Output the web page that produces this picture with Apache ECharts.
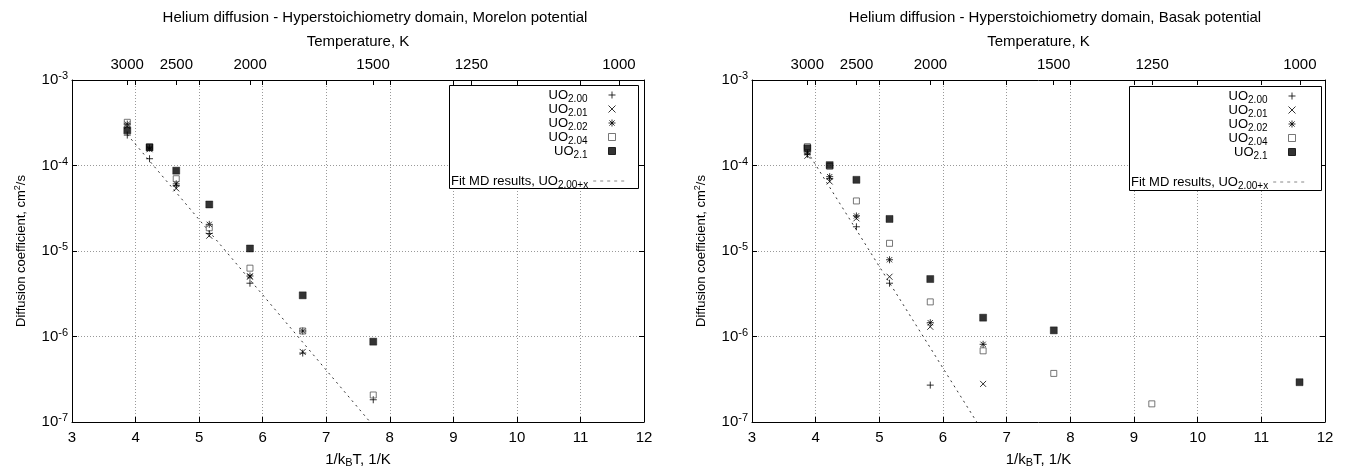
<!DOCTYPE html>
<html>
<head>
<meta charset="utf-8">
<title>Helium diffusion</title>
<script src="https://cdn.jsdelivr.net/npm/echarts@6/dist/echarts.min.js"></script>
<style>
  html, body { margin: 0; padding: 0; background: #fff; }
  #main { width: 1347px; height: 466px; }
</style>
</head>
<body>
<div id="main"></div>
<script>
// 1/kBT positions of the computed temperatures (3000 K ... 1000 K)
const morelonX = [3.87, 4.22, 4.64, 5.16, 5.80, 6.63, 7.74];
const basakX = [3.87, 4.22, 4.64, 5.16, 5.80, 6.63, 7.74, 9.28, 11.6];

// Morelon potential, diffusion coefficient in cm2/s
const morelon200 = [2.27e-4, 1.2e-4, 5.8e-5, 1.6e-5, 4.2e-6, 6.4e-7, 1.82e-7];
const morelon201 = [2.9e-4, 1.55e-4, 5.4e-5, 1.51e-5, 5.0e-6, 6.6e-7, null];
const morelon202 = [3.05e-4, 1.6e-4, 6.1e-5, 2.05e-5, 5.1e-6, 1.16e-6, null];
const morelon204 = [3.2e-4, 1.65e-4, 7.0e-5, 1.87e-5, 6.3e-6, 1.16e-6, 2.07e-7];
const morelon21 = [2.58e-4, 1.63e-4, 8.7e-5, 3.5e-5, 1.07e-5, 3.03e-6, 8.7e-7];

// Basak potential
const basak200 = [1.35e-4, 7.0e-5, 1.92e-5, 4.2e-6, 2.7e-7, null, null, null, null];
const basak201 = [1.3e-4, 6.5e-5, 2.41e-5, 5.0e-6, 1.3e-6, 2.79e-7, null, null, null];
const basak202 = [1.4e-4, 7.4e-5, 2.57e-5, 7.9e-6, 1.45e-6, 8.1e-7, null, null, null];
const basak204 = [1.66e-4, 9.8e-5, 3.85e-5, 1.23e-5, 2.54e-6, 6.8e-7, 3.7e-7, 1.63e-7, null];
const basak21 = [1.59e-4, 1.01e-4, 6.8e-5, 2.37e-5, 4.7e-6, 1.66e-6, 1.18e-6, null, 2.92e-7];

// fit lines (end points)
const morelonFitX = [3.87, 7.69];
const morelonFitY = [2.3e-4, 1.0e-7];
const basakFitX = [3.87, 6.53];
const basakFitY = [1.45e-4, 1.0e-7];

// top axis: temperature ticks
const tempTicks = [3000, 2500, 2000, 1500, 1250, 1000];
const KB = 8.617e-5; // eV/K
const tempPos = tempTicks.map(t => 1 / (KB * t));
const xTicks = [4, 5, 6, 7, 8, 9, 10, 11];

const seriesNames = ['UO2.00', 'UO2.01', 'UO2.02', 'UO2.04', 'UO2.1'];
const fitName = 'Fit MD results, UO2.00+x';

const FONT = '"Liberation Sans", Arial, Helvetica, sans-serif';

// marker look per composition (gnuplot style points)
const markers = [
  { symbol: 'path://M0,4L8,4M4,0L4,8', size: 7, style: { color: '#000', borderColor: '#000', borderWidth: 1 } },
  { symbol: 'path://M0,0L8,8M0,8L8,0', size: 6, style: { color: '#000', borderColor: '#000', borderWidth: 1 } },
  { symbol: 'path://M0,4L8,4M4,0L4,8M1,1L7,7M1,7L7,1', size: 7, style: { color: '#000', borderColor: '#000', borderWidth: 1 } },
  { symbol: 'rect', size: 6, style: { color: 'rgba(0,0,0,0)', borderColor: '#555', borderWidth: 1 } },
  { symbol: 'rect', size: 7, style: { color: '#000', borderColor: '#000', borderWidth: 0.5 } }
];

function pts(xs, ys) {
  return xs.map((x, i) => [x, ys[i]]).filter(p => p[1] != null);
}

function sub(name) {
  // UO2.00 -> UO + subscript
  let i = name.indexOf('UO');
  return '{m|' + name.slice(0, i + 2) + '}{s|' + name.slice(i + 2) + '}';
}

const subRich = {
  m: { fontSize: 13, fontFamily: FONT, color: '#000', lineHeight: 14 },
  s: { fontSize: 10, fontFamily: FONT, color: '#000', lineHeight: 14, padding: [8, 0, 0, 0] }
};

function makeAxes(gi) {
  const xBottom = {
    gridIndex: gi, type: 'value', position: 'bottom', min: 3, max: 12, interval: 1,
    name: '{a|1/k}{s|B}{a|T, 1/K}', nameLocation: 'middle', nameGap: 23,
    nameTextStyle: { rich: {
      a: { fontSize: 15, fontFamily: FONT, color: '#000', lineHeight: 16 },
      s: { fontSize: 11, fontFamily: FONT, color: '#000', lineHeight: 16, padding: [8, 0, 0, 0] } } },
    axisLine: { lineStyle: { color: '#000', width: 1 } },
    axisTick: { inside: true, length: 5, lineStyle: { color: '#000' } },
    axisLabel: { fontSize: 15, fontFamily: FONT, color: '#000', margin: 8 },
    splitLine: { show: true, lineStyle: { color: '#999', type: [1, 2], width: 1 } }
  };
  const xTop = {
    gridIndex: gi, type: 'value', position: 'top', min: 3, max: 12, interval: 1,
    name: 'Temperature, K', nameLocation: 'middle', nameGap: 31,
    nameTextStyle: { fontSize: 15, fontFamily: FONT, color: '#000' },
    axisLine: { lineStyle: { color: '#000', width: 1 } },
    axisTick: { inside: true, length: 5, lineStyle: { color: '#000' }, customValues: tempPos.concat(xTicks) },
    axisLabel: {
      fontSize: 15, fontFamily: FONT, color: '#000', margin: 8, customValues: tempPos,
      formatter: v => String(Math.round(1 / (KB * v)))
    },
    splitLine: { show: false }
  };
  const yLeft = {
    gridIndex: gi, type: 'log', logBase: 10, min: 1e-7, max: 1e-3, position: 'left',
    name: '{a|Diffusion coefficient, cm}{p|2}{a|/s}', nameLocation: 'middle', nameGap: 43,
    nameTextStyle: { rich: { a: { fontSize: 13, fontFamily: FONT, color: '#000' }, p: { fontSize: 9, fontFamily: FONT, color: '#000', padding: [0, 0, 7, 0] } } },
    axisLine: { show: true, lineStyle: { color: '#000', width: 1 } },
    axisTick: { show: true, inside: true, length: 5, lineStyle: { color: '#000' } },
    axisLabel: {
      margin: 4,
      formatter: v => '{b|10}{p|' + Math.round(Math.log10(v)) + '}',
      rich: { b: { fontSize: 15, fontFamily: FONT, color: '#000' }, p: { fontSize: 11, fontFamily: FONT, color: '#000', padding: [0, 0, 8, 0] } }
    },
    splitLine: { show: true, lineStyle: { color: '#999', type: [1, 2], width: 1 } },
    minorTick: { show: false }
  };
  const yRight = {
    gridIndex: gi, type: 'log', logBase: 10, min: 1e-7, max: 1e-3, position: 'right',
    axisLine: { show: true, lineStyle: { color: '#000', width: 1 } },
    axisTick: { show: true, inside: true, length: 5, lineStyle: { color: '#000' } },
    axisLabel: { show: false },
    splitLine: { show: false }
  };
  return { x: [xBottom, xTop], y: [yLeft, yRight] };
}

function makeSeries(gi, xs, groups, fitX, fitY) {
  let out = groups.map((ys, k) => ({
    name: seriesNames[k],
    type: 'scatter',
    xAxisIndex: gi * 2, yAxisIndex: gi * 2,
    symbol: markers[k].symbol,
    symbolSize: markers[k].size,
    itemStyle: markers[k].style,
    emphasis: { disabled: true },
    data: pts(xs, ys)
  }));
  out.push({
    name: fitName,
    type: 'line',
    xAxisIndex: gi * 2, yAxisIndex: gi * 2,
    symbol: 'none',
    itemStyle: { color: '#333' },
    lineStyle: { color: '#333', width: 1, type: [2, 4] },
    emphasis: { disabled: true },
    data: pts(fitX, fitY),
    z: 1
  });
  return out;
}

function makeLegends(iconRight, fitLeft, top) {
  return [
    {
      data: seriesNames, orient: 'vertical', align: 'right', right: iconRight, top: top,
      padding: 0, itemGap: -4, itemWidth: 7, itemHeight: 7,
      itemStyle: { borderWidth: 1 },
      selectedMode: false, z: 6,
      formatter: sub,
      textStyle: { width: 64, align: 'right', padding: [0, 16, 0, 0], rich: subRich }
    },
    {
      data: [fitName], orient: 'vertical', align: 'right', left: fitLeft, top: top + 86,
      padding: 0, itemWidth: 34, itemHeight: 7,
      itemStyle: { opacity: 0 },
      lineStyle: { color: '#888', width: 1, type: [3, 4] },
      selectedMode: false, z: 6,
      formatter: sub,
      textStyle: { rich: subRich }
    }
  ];
}

const a0 = makeAxes(0);
const a1 = makeAxes(1);

let option = {
  animation: false,
  backgroundColor: '#fff',
  title: [
    { text: 'Helium diffusion - Hyperstoichiometry domain, Morelon potential', left: 370, top: 5, textAlign: 'center',
      textStyle: { fontSize: 15, fontWeight: 'normal', fontFamily: FONT, color: '#000' } },
    { text: 'Helium diffusion - Hyperstoichiometry domain, Basak potential', left: 1050, top: 5, textAlign: 'center',
      textStyle: { fontSize: 15, fontWeight: 'normal', fontFamily: FONT, color: '#000' } }
  ],
  grid: [
    { left: 72, top: 80, width: 572, height: 342, outerBoundsMode: 'none', containLabel: false },
    { left: 752, top: 80, width: 573, height: 342, outerBoundsMode: 'none', containLabel: false }
  ],
  xAxis: a0.x.concat(a1.x),
  yAxis: a0.y.concat(a1.y),
  legend: makeLegends(731, 451, 86).concat(makeLegends(51, 1131, 87)),
  graphic: [
    { type: 'rect', z: 3, shape: { x: 449.5, y: 85.5, width: 189, height: 103 }, style: { fill: '#fff', stroke: '#000', lineWidth: 1 } },
    { type: 'rect', z: 3, shape: { x: 1129.5, y: 86.5, width: 192, height: 104 }, style: { fill: '#fff', stroke: '#000', lineWidth: 1 } }
  ],
  series: makeSeries(0, morelonX, [morelon200, morelon201, morelon202, morelon204, morelon21], morelonFitX, morelonFitY)
    .concat(makeSeries(1, basakX, [basak200, basak201, basak202, basak204, basak21], basakFitX, basakFitY))
};

let myChart = echarts.init(document.getElementById('main'), null, { renderer: 'canvas' });
myChart.setOption(option);
</script>
</body>
</html>
